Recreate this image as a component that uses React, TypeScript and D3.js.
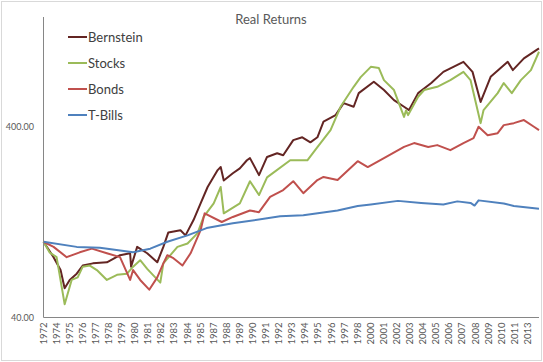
import React from "react";
import * as d3 from "d3";

// values, indexed to 100 at Dec 1972
const bernstein: [string, number][] = [
  ["1972-12", 100], ["1973-10", 83], ["1974-05", 71], ["1974-09", 57], ["1975-02", 63], ["1975-09", 68],
  ["1976-03", 75], ["1977-01", 77], ["1978-03", 78], ["1979-04", 85], ["1980-02", 87], ["1980-03", 74],
  ["1980-09", 94], ["1981-07", 87], ["1982-05", 78], ["1982-11", 94], ["1983-04", 112], ["1984-04", 115],
  ["1984-09", 108], ["1985-05", 130], ["1985-12", 159], ["1986-07", 194], ["1987-05", 238], ["1987-08", 247],
  ["1987-11", 210], ["1988-08", 229], ["1989-03", 243], ["1989-10", 268], ["1990-01", 275], ["1990-10", 224],
  ["1991-06", 279], ["1992-04", 292], ["1992-10", 285], ["1993-08", 342], ["1994-05", 354], ["1995-01", 333],
  ["1995-08", 354], ["1996-02", 428], ["1997-02", 463], ["1997-10", 535], ["1998-08", 512],
  ["1999-01", 604], ["2000-04", 693], ["2001-02", 627], ["2001-12", 555], ["2002-10", 512], ["2003-03", 492],
  ["2003-12", 604], ["2005-01", 682], ["2006-01", 781], ["2007-09", 882], ["2008-06", 781], ["2009-02", 543],
  ["2009-12", 736], ["2011-05", 882], ["2011-10", 798], ["2012-09", 920], ["2013-12", 1038],
];

const stocks: [string, number][] = [
  ["1972-12", 100], ["1973-06", 88], ["1974-01", 83], ["1974-09", 47], ["1975-04", 63], ["1975-10", 65],
  ["1976-03", 74], ["1976-10", 75], ["1977-05", 71], ["1978-03", 63], ["1979-01", 67], ["1979-11", 68],
  ["1980-05", 74], ["1980-12", 80], ["1981-07", 72], ["1982-03", 65], ["1982-08", 61], ["1982-11", 77],
  ["1983-06", 85], ["1984-01", 94], ["1984-11", 98], ["1985-09", 111], ["1986-03", 135], ["1987-01", 159],
  ["1987-08", 194], ["1987-11", 141], ["1989-03", 159], ["1990-01", 208], ["1990-10", 176], ["1991-06", 218],
  ["1993-05", 268], ["1994-10", 268], ["1995-08", 314], ["1996-09", 386], ["1997-07", 512], ["1998-08", 652],
  ["1999-03", 733], ["2000-01", 830], ["2000-09", 818], ["2001-02", 707], ["2001-12", 627], ["2002-10", 453],
  ["2002-12", 490], ["2003-02", 463], ["2003-12", 578], ["2004-06", 627], ["2005-07", 652], ["2006-08", 707],
  ["2007-09", 781], ["2008-04", 707], ["2009-02", 420], ["2009-05", 492], ["2010-07", 604], ["2011-01", 682],
  ["2011-09", 604], ["2012-06", 707], ["2013-04", 798], ["2013-12", 996],
];

const bonds: [string, number][] = [
  ["1972-12", 100], ["1973-10", 94], ["1974-11", 83], ["1975-12", 88], ["1976-12", 92], ["1978-03", 87],
  ["1979-04", 83], ["1980-02", 63], ["1980-05", 71], ["1980-12", 63], ["1981-09", 56], ["1982-05", 65],
  ["1982-11", 77], ["1983-03", 85], ["1983-09", 82], ["1984-06", 75], ["1985-02", 87], ["1985-12", 115],
  ["1986-04", 141], ["1987-09", 127], ["1988-08", 135], ["1990-01", 146], ["1990-10", 143], ["1991-09", 172],
  ["1992-10", 187], ["1993-08", 208], ["1994-06", 180], ["1995-08", 211], ["1996-02", 219], ["1997-04", 211],
  ["1998-12", 265], ["1999-10", 247], ["2001-02", 275], ["2002-10", 315], ["2003-08", 330], ["2004-10", 315],
  ["2005-07", 322], ["2006-08", 303], ["2007-09", 330], ["2008-07", 350], ["2008-12", 402], ["2009-09", 363],
  ["2010-07", 372], ["2011-01", 410], ["2011-11", 420], ["2012-09", 436], ["2013-07", 402], ["2013-12", 386],
];

const tbills: [string, number][] = [
  ["1972-12", 100], ["1975-09", 94], ["1977-08", 93], ["1980-05", 88], ["1981-10", 92], ["1983-03", 100],
  ["1984-11", 108], ["1986-06", 118], ["1988-08", 125], ["1992-07", 136], ["1994-06", 138], ["1997-04", 146],
  ["1998-12", 154], ["2000-01", 157], ["2002-04", 164], ["2004-03", 160], ["2006-01", 157], ["2007-03", 163],
  ["2008-04", 160], ["2008-08", 155], ["2008-12", 165], ["2011-01", 159], ["2011-11", 154], ["2013-12", 149],
];

// excel shows a label every 13 months starting Dec 1972
const yearLabels = [
  "1972", "1974", "1975", "1976", "1977", "1978", "1979", "1980", "1981", "1982", "1983", "1984", "1985",
  "1987", "1988", "1989", "1990", "1991", "1992", "1993", "1994", "1995", "1996", "1997", "1998", "2000",
  "2001", "2002", "2003", "2004", "2005", "2006", "2007", "2008", "2009", "2010", "2011", "2013",
];
const yTicks = [40, 400];

const series = [
  { name: "Bernstein", color: "#632523", data: bernstein },
  { name: "Stocks", color: "#9bbb59", data: stocks },
  { name: "Bonds", color: "#c0504d", data: bonds },
  { name: "T-Bills", color: "#4f81bd", data: tbills },
];

const W = 543;
const H = 362;
const left = 43.5;
const right = 539;
const top = 17;
const bottom = 317.5;
const parse = d3.timeParse("%Y-%m");

export default function App() {
  const start = parse("1972-12")!;
  const x = d3.scaleTime().domain([start, parse("2013-12")!]).range([left, right]);
  const y = d3.scaleLog().domain([40, 1517]).range([bottom, top]);
  const line = d3
    .line<[string, number]>()
    .x((d) => x(parse(d[0])!))
    .y((d) => y(d[1]));
  const font = "Lato, 'Open Sans', sans-serif";

  return (
    <svg width={W} height={H} style={{ position: "absolute", left: 0, top: 0, background: "#fff" }}>
      <rect x={1.5} y={1.5} width={W - 3} height={H - 3} fill="#fff" stroke="#d9d9d9" />
      <text x={271} y={24} textAnchor="middle" fontFamily={font} fontSize={13} fill="#595959">
        Real Returns
      </text>
      {series.map((s) => (
        <path key={s.name} d={line(s.data)!} fill="none" stroke={s.color} strokeWidth={2} strokeLinejoin="round" />
      ))}
      <line x1={left} x2={left} y1={top} y2={bottom} stroke="#868686" />
      <line x1={left} x2={right} y1={bottom} y2={bottom} stroke="#868686" />
      {yTicks.map((t) => (
        <text key={t} x={34} y={y(t) + 3} textAnchor="end" fontFamily={font} fontSize={9} fill="#595959">
          {t.toFixed(2)}
        </text>
      ))}
      {yearLabels.map((lab, i) => {
        const px = x(d3.timeMonth.offset(start, i * 13));
        return (
          <text
            key={lab}
            transform={`translate(${px + 3},${bottom + 5}) rotate(-90)`}
            textAnchor="end"
            fontFamily={font}
            fontSize={9.5}
            fill="#595959"
          >
            {lab}
          </text>
        );
      })}
      {series.map((s, i) => (
        <g key={s.name} transform={`translate(68,${37 + i * 26})`}>
          <line x1={0} x2={19} y1={0} y2={0} stroke={s.color} strokeWidth={2} />
          <text x={20} y={5} fontFamily={font} fontSize={13} fill="#404040">
            {s.name}
          </text>
        </g>
      ))}
    </svg>
  );
}
